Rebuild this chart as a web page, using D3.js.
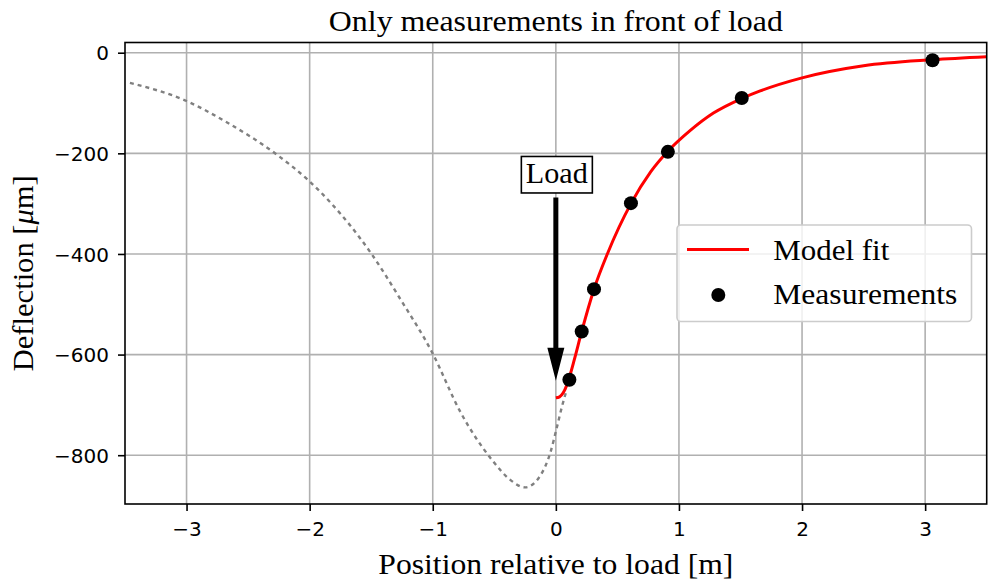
<!DOCTYPE html>
<html>
<head>
<meta charset="utf-8">
<script src="https://cdn.jsdelivr.net/npm/d3@7"></script>
<style>
  html, body { margin: 0; padding: 0; background: #fff; }
  svg { display: block; }
  .serif { font-family: "Liberation Serif", "DejaVu Serif", serif; fill: #000; }
  .tick text { font-family: "DejaVu Sans", sans-serif; font-size: 20px; fill: #000; }
</style>
</head>
<body>
<svg id="chart" width="999" height="584"></svg>
<script>
// Measured deflections in front of the load
const measX = [0.11, 0.21, 0.31, 0.61, 0.91, 1.51, 3.06];
const measY = [-650, -554, -470, -299, -197, -90, -15];

// Fitted model, evaluated ahead of the load
const fitX = [0, 0.03, 0.06, 0.09, 0.11, 0.15, 0.21, 0.31, 0.42, 0.61, 0.77, 0.91, 1.09, 1.28, 1.51, 1.66, 2.0, 2.5, 3.06, 3.5];
const fitY = [-686, -684, -676, -660, -645, -610, -554, -470, -399, -300, -237, -196, -155, -120, -91, -76, -50, -26, -14, -8];

// Model extended behind the load
const extX = [-3.46, -3.0, -2.69, -2.27, -2.0, -1.83, -1.5, -1.26, -1.0, -0.78, -0.52, -0.37, -0.25, -0.13, -0.045, 0.01, 0.05, 0.085];
const extY = [-60, -96, -136, -202, -256, -298, -399, -491, -598, -712, -809, -849, -864, -842, -795, -743, -703, -673];

// Ticks
const xTicks = [-3, -2, -1, 0, 1, 2, 3];
const yTicks = [0, -200, -400, -600, -800];

// Load annotation: arrow tip and label position in data units
const loadTip = [0, -652];
const loadLabel = [0, -243];

const svg = d3.select("#chart");
const L = 125, R = 986.7, T = 42.5, B = 504;

const x = d3.scaleLinear().domain([-3.5, 3.5]).range([L, R]);
const y = d3.scaleLinear().domain([-897, 20.3]).range([B, T]);

svg.append("defs").append("clipPath").attr("id", "plot-clip")
  .append("rect").attr("x", L).attr("y", T).attr("width", R - L).attr("height", B - T);

// Grid
const grid = svg.append("g").attr("stroke", "#b0b0b0").attr("stroke-width", 1.6);
grid.selectAll(".gx").data(xTicks).join("line")
  .attr("x1", d => x(d)).attr("x2", d => x(d)).attr("y1", T).attr("y2", B);
grid.selectAll(".gy").data(yTicks).join("line")
  .attr("y1", d => y(d)).attr("y2", d => y(d)).attr("x1", L).attr("x2", R);

const plot = svg.append("g").attr("clip-path", "url(#plot-clip)");

const line = d3.line().x(d => x(d[0])).y(d => y(d[1])).curve(d3.curveMonotoneX);

// Extended model (dotted grey)
plot.append("path")
  .datum(d3.zip(extX, extY))
  .attr("d", line)
  .attr("fill", "none")
  .attr("stroke", "#808080")
  .attr("stroke-width", 2.4)
  .attr("stroke-dasharray", "4,4");

// Model fit (red)
plot.append("path")
  .datum(d3.zip(fitX, fitY))
  .attr("d", line)
  .attr("fill", "none")
  .attr("stroke", "#ff0000")
  .attr("stroke-width", 3);

// Measurements
plot.selectAll(".pt").data(d3.zip(measX, measY)).join("circle")
  .attr("cx", d => x(d[0])).attr("cy", d => y(d[1])).attr("r", 7)
  .attr("fill", "#000");

// Axes
const xAxis = d3.axisBottom(x).tickValues(xTicks).tickSize(7).tickPadding(9)
  .tickFormat(d => d < 0 ? "\u2212" + Math.abs(d) : String(d));
const yAxis = d3.axisLeft(y).tickValues(yTicks).tickSize(7).tickPadding(9)
  .tickFormat(d => d < 0 ? "\u2212" + Math.abs(d) : String(d));

const gx = svg.append("g").attr("transform", `translate(0,${B})`).call(xAxis);
const gy = svg.append("g").attr("transform", `translate(${L},0)`).call(yAxis);
[gx, gy].forEach(g => {
  g.select(".domain").remove();
  g.selectAll(".tick line").attr("stroke", "#000").attr("stroke-width", 1.6);
});
gx.selectAll(".tick text").attr("dy", "0.78em");
gy.selectAll(".tick text").attr("dy", "0.36em");

// Load annotation
const ax = x(loadTip[0]);
const tipY = y(loadTip[1]);
const labY = y(loadLabel[1]);
const box = svg.append("g");
box.append("rect")
  .attr("x", ax - 34.5).attr("y", labY - 18.5).attr("width", 71).attr("height", 36.5)
  .attr("fill", "#fff").attr("stroke", "#000").attr("stroke-width", 1.6);
box.append("text").attr("class", "serif")
  .attr("x", ax + 1).attr("y", labY + 8.5)
  .attr("text-anchor", "middle").attr("font-size", 29)
  .attr("textLength", 62).attr("lengthAdjust", "spacingAndGlyphs")
  .text("Load");

const shaftTop = labY + 22.5, headBase = tipY - 33, sw = 2.5, hw = 8.5;
svg.append("path")
  .attr("d", `M${ax - sw},${shaftTop} L${ax + sw},${shaftTop} L${ax + sw},${headBase} L${ax + hw},${headBase} L${ax},${tipY} L${ax - hw},${headBase} L${ax - sw},${headBase} Z`)
  .attr("fill", "#000");

// Legend
const lg = svg.append("g");
lg.append("rect")
  .attr("x", 677).attr("y", 225).attr("width", 294.5).attr("height", 96.5).attr("rx", 4)
  .attr("fill", "#fff").attr("fill-opacity", 0.8)
  .attr("stroke", "#cccccc").attr("stroke-width", 1.6);
lg.append("line")
  .attr("x1", 687).attr("x2", 749).attr("y1", 249.5).attr("y2", 249.5)
  .attr("stroke", "#ff0000").attr("stroke-width", 3);
lg.append("circle").attr("cx", 718.3).attr("cy", 295).attr("r", 7).attr("fill", "#000");
lg.append("text").attr("class", "serif")
  .attr("x", 773.3).attr("y", 259.5).attr("font-size", 29)
  .attr("textLength", 116).attr("lengthAdjust", "spacingAndGlyphs")
  .text("Model fit");
lg.append("text").attr("class", "serif")
  .attr("x", 773.3).attr("y", 304).attr("font-size", 29)
  .attr("textLength", 184).attr("lengthAdjust", "spacingAndGlyphs")
  .text("Measurements");

// Frame
svg.append("rect")
  .attr("x", L).attr("y", T).attr("width", R - L).attr("height", B - T)
  .attr("fill", "none").attr("stroke", "#000").attr("stroke-width", 1.6);

// Title and axis labels
svg.append("text").attr("class", "serif")
  .attr("x", (L + R) / 2).attr("y", 30.5).attr("text-anchor", "middle").attr("font-size", 29)
  .attr("textLength", 454).attr("lengthAdjust", "spacingAndGlyphs")
  .text("Only measurements in front of load");

svg.append("text").attr("class", "serif")
  .attr("x", (L + R) / 2).attr("y", 574).attr("text-anchor", "middle").attr("font-size", 29)
  .attr("textLength", 355).attr("lengthAdjust", "spacingAndGlyphs")
  .text("Position relative to load [m]");

const yl = svg.append("text").attr("class", "serif")
  .attr("transform", `translate(33,${(T + B) / 2}) rotate(-90)`)
  .attr("text-anchor", "middle").attr("font-size", 29)
  .attr("textLength", 196).attr("lengthAdjust", "spacingAndGlyphs");
yl.append("tspan").text("Deflection [");
yl.append("tspan").attr("font-style", "italic").text("\u03bc");
yl.append("tspan").text("m]");
</script>
</body>
</html>
